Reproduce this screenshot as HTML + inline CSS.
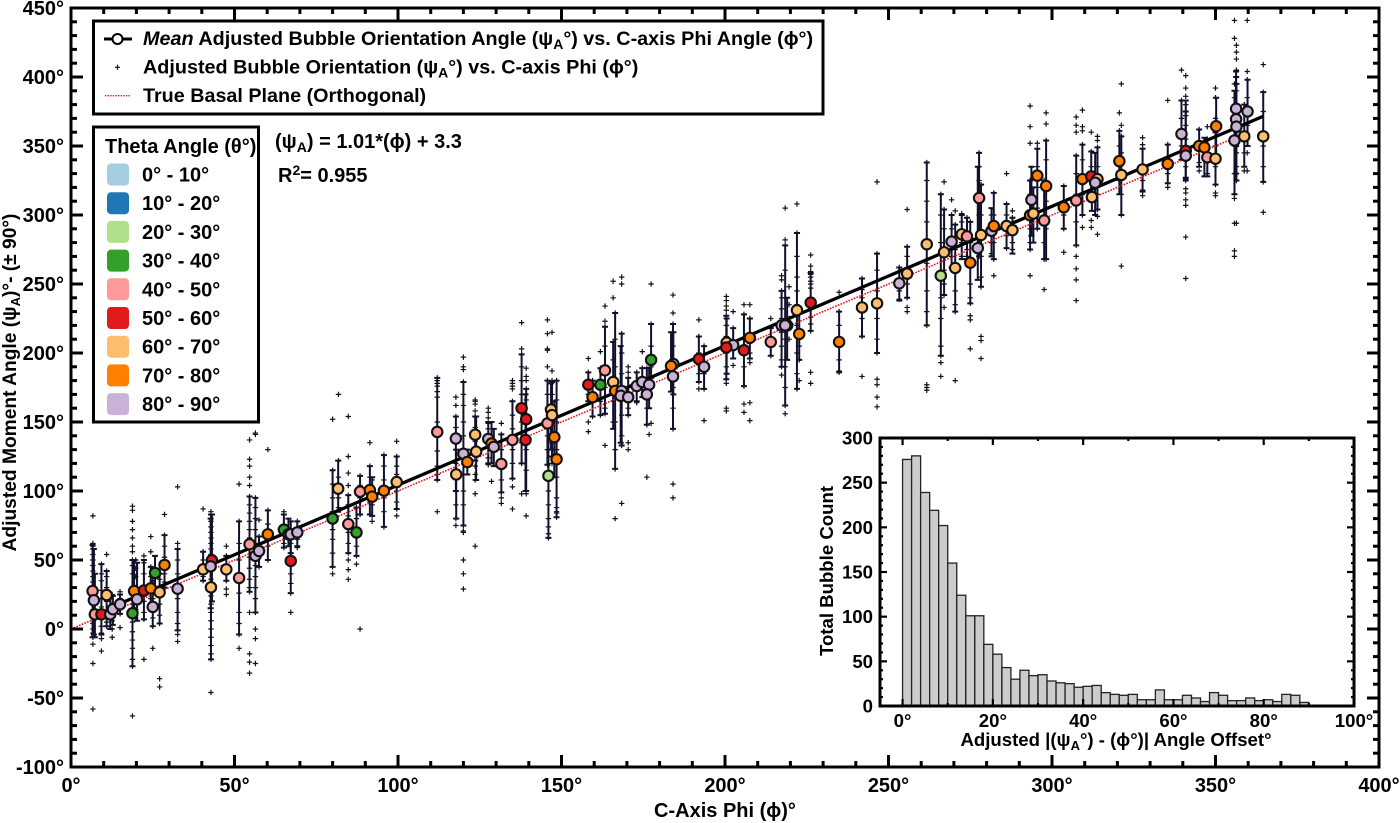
<!DOCTYPE html>
<html lang="en">
<head>
<meta charset="utf-8">
<title>Adjusted Bubble Orientation vs C-axis Phi</title>
<style>
html,body{margin:0;padding:0;background:#fff;}
svg{display:block;}
text{font-family:"Liberation Sans","DejaVu Sans",sans-serif;font-weight:bold;font-size:20px;fill:#000;}
</style>
</head>
<body>
<svg id="chart" width="1400" height="823" viewBox="0 0 1400 823" xmlns="http://www.w3.org/2000/svg">
<rect x="0" y="0" width="1400" height="823" fill="#fff"/>
<g id="plot"></g>
<rect x="71" y="8" width="1308" height="759" fill="none" stroke="#000" stroke-width="3"/>
<g id="axes"></g>
<text x="725" y="817" text-anchor="middle">C-Axis Phi (ϕ)°</text>
<text transform="translate(16,382.5) rotate(-90)" text-anchor="middle" style="font-size:19.2px">Adjusted Moment Angle (ψ<tspan font-size="13" dy="4">A</tspan><tspan dy="-4">)°- (± 90°)</tspan></text>

<g>
<rect x="93.5" y="21" width="729.5" height="93" fill="#fff" stroke="#000" stroke-width="3"/>
<line x1="104" y1="39" x2="132" y2="39" stroke="#000" stroke-width="3"/>
<circle cx="117.5" cy="39" r="5" fill="#fff" stroke="#000" stroke-width="2"/>
<text x="143" y="45" style="font-size:19.8px"><tspan font-style="italic">Mean</tspan> Adjusted Bubble Orientation Angle (ψ<tspan font-size="14" dy="4">A</tspan><tspan dy="-4">°) vs. C-axis Phi Angle (ϕ°)</tspan></text>
<path d="M115 67.3H120M117.5 64.8V69.8" stroke="#111" stroke-width="1.2" fill="none"/>
<text x="143" y="73.5" style="font-size:19.8px">Adjusted Bubble Orientation (ψ<tspan font-size="14" dy="4">A</tspan><tspan dy="-4">°) vs. C-axis Phi (ϕ°)</tspan></text>
<line x1="105" y1="95.7" x2="131" y2="95.7" stroke="#e8141c" stroke-width="1.4" stroke-dasharray="1.4 1.2"/>
<text x="143" y="102" style="font-size:19.75px">True Basal Plane (Orthogonal)</text>
</g>

<g id="theta-legend">
<rect x="93.5" y="127" width="165" height="295" fill="#fff" stroke="#000" stroke-width="3"/>
<text x="105" y="153">Theta Angle (θ°)</text>
</g>

<text x="275" y="148">(ψ<tspan font-size="14" dy="4">A</tspan><tspan dy="-4">) = 1.01*(ϕ) + 3.3</tspan></text>
<text x="278" y="182">R<tspan font-size="14" dy="-7">2</tspan><tspan dy="7">= 0.955</tspan></text>

<g id="inset">
<rect x="880" y="438" width="474" height="268" fill="#fff"/>
</g>
<text x="1116" y="746" text-anchor="middle" style="font-size:18.6px">Adjusted |(ψ<tspan font-size="13" dy="4">A</tspan><tspan dy="-4">°) - (ϕ°)| Angle Offset°</tspan></text>
<text transform="translate(833,571) rotate(-90)" text-anchor="middle" style="font-size:18.6px">Total Bubble Count</text>
</svg>

<script>
var xTickValues = [0, 50, 100, 150, 200, 250, 300, 350, 400];
var yTickValues = [-100, -50, 0, 50, 100, 150, 200, 250, 300, 350, 400, 450];

var thetaLabels = ["0° - 10°", "10° - 20°", "20° - 30°", "30° - 40°", "40° - 50°", "50° - 60°", "60° - 70°", "70° - 80°", "80° - 90°"];
var thetaColors = ["#a6cee3", "#1f78b4", "#b2df8a", "#33a02c", "#fb9a99", "#e31a1c", "#fdbf6f", "#ff7f00", "#cab2d6"];

var fitSlope = 1.01;
var fitIntercept = 3.3;
var fitRange = [16, 364.6];
var basalRange = [0, 355];

var meanPhi = [6.6,7,7.3,9.3,10.9,12,12.8,15,18.8,19.3,20.2,22.3,24.4,25,25.7,27.1,28.6,32.6,40.4,43.1,42.7,42.8,47.5,51.4,54.6,56.4,57.5,60.2,65.1,66.5,67.2,69.2,67.2,80,81.7,84.8,87.3,88.4,91.4,92.1,95.7,99.6,112,117.7,117.8,120,121.2,123.6,123.9,127.6,128.6,129.3,131.6,135,137.8,139.2,139,145.7,146.8,147.1,147.8,146,148.5,158.2,159.5,161.9,163.3,165.8,166.4,168.4,168.1,170.4,173,174.7,176.8,176.1,177.4,184.2,183.5,184.1,192,193.6,200.5,202.5,200.4,205.8,207.6,214,217.3,219,218.4,222,222.7,226.2,234.9,241.9,246.5,253.3,255.7,261.7,267,266,270.4,269.3,272.4,274,275,277.7,278.3,277.3,281.5,282.2,286.1,287.9,293.3,294.3,293.7,295.5,297.6,298.2,303.6,307.4,309.3,312,313.9,313.2,312.2,320.6,321.2,327.7,335.4,339.6,340.9,340.9,345,346.6,347.5,350,350.2,356.3,356.3,356.4,355.8,359.8,358.8,364.6];
var meanPsi = [27.5,20.8,10.6,10.6,24.6,10.6,14.3,17.9,11.4,27.5,21.5,27.9,29.4,16,40.6,26.6,46.4,29.2,43.2,49.8,45.4,30.2,43.2,37,61.4,53,56.5,68.6,72,68.6,68.6,70,49.3,80,101.7,76,70,99.5,100.7,95.9,100.2,106.5,142.8,138,112,127,121,140.8,128.5,137.7,134.4,132,119.6,137,160,152,137,149,159,155,139,111,123,177,168,177,187.4,179,172.5,172.5,169,168,176,179,177,170,195,192,190.6,183,195.6,190,207.5,205.7,204,202,211,208,220,220,220,231,213.8,236.5,208,233,236,250.5,257.5,278.8,273,256,261.6,280.7,286,284.5,265.4,312.3,285.5,276,288.5,292,292,289,299.8,301,311,328.5,296,321,305.6,310.5,326,328,326,323.4,313,339,329,333,337,358.7,346.5,343,350,349,341.8,340.8,364.3,377,369.4,364,354,375,357,357];
var errLow = [-6,-4,-6,-4,2,0,3,11,-27,8,6,7,14,2,25,4,30,-1,35,20,15,-22,35,-4,27,12,45,50,59,60,55,60,26,45,85,55,53,83,83,82,74,87,108,100,80,75,112,122,108,120,120,118,99,109,120,100,100,119,130,125,110,66,81,165,154,155,156,145,116,133,135,155,165,168,160,148,182,170,172,145,179,174,185,196,181,176,196,198,190,195,162,174,195,216,186,212,200,238,240,220,242,198,230,262,268,268,236,270,248,253,270,268,276,272,275,280,285,290,268,268,290,278,300,310,304,300,303,315,300,317,323,340,325,327,335,328,328,322,342,350,330,325,315,350,335,324];
var errHigh = [61,58,40,47,42,22,24,25,50,50,48,50,45,35,53,40,68,58,56,83,80,83,53,78,96,95,67,86,83,80,78,78,66,115,122,97,88,111,118,110,126,125,182,154,130,179,130,154,154,150,150,145,141,165,199,174,170,180,178,179,165,150,180,186,180,189,219,208,229,214,205,182,186,189,189,189,221,215,215,221,212,205,225,218,227,228,225,218,245,240,278,287,232,258,230,254,272,262,277,338,304,315,293,300,300,298,295,345,322,335,305,316,308,298,325,320,335,348,325,354,321,343,351,346,349,345,325,361,357,348,351,383,383,375,362,356,355,360,385,404,400,395,390,398,380,389];
var meanTheta = [4,8,4,5,6,8,8,8,3,7,8,5,7,8,3,6,7,8,6,5,8,6,6,4,4,8,8,7,3,8,8,8,5,3,6,4,3,4,7,7,7,6,4,8,6,8,7,6,6,8,7,8,4,4,5,5,5,4,6,6,7,2,7,5,7,3,4,6,7,8,8,8,8,8,8,8,3,8,7,8,5,8,6,8,5,5,7,4,8,7,8,6,7,5,7,6,6,8,6,6,6,2,6,8,6,4,7,4,6,8,8,7,6,6,7,6,8,7,4,7,7,4,7,5,6,8,6,7,6,6,7,8,5,8,7,7,4,6,7,8,8,8,8,8,6,6];

var bubblePhi = [6.7,9.3,10.9,12.6,15,18.8,19.8,22.3,24.4,25,27.1,28.6,32.6,40.4,42.8,47.5,51.4,54.6,56.4,57.5,60.2,65.1,67.2,69.2,80,81.8,84.8,87.3,88.4,91.4,92.1,95.7,99.6,112,117.7,120,123.6,127.6,128.6,131.6,135,137.8,139.2,145.7,147.1,146,148.5,158.2,159.5,161.9,163.3,165.8,166.4,168.4,170.4,173,174.7,176.1,176.8,177.4,184.1,192,193.6,200.4,202.5,205.8,207.6,214,217.3,218.4,219.6,222,222.7,226.2,234.9,241.9,246.5,253.3,255.7,261.7,266,267,269.3,270.4,272.4,274,275,277.7,278.3,281.5,282.2,286.1,287.9,293.3,295.5,298.2,297.6,303.6,307.4,309.3,312,313.9,321.2,320.6,327.7,335.4,339.6,340.9,345,347.5,350,355.8,356.4,359.7,358.8,364.6];
var bubblePsi = [
[82,62,60,58,54,50,46,42,38,34,30,24,18,14,8,4,0,-3,-6,-11,-25,-58],
[47,40,35,28,22,16,8,2,-3,-7,-16],
[54,42,38,30,20,12,5,2],
[25,18,12,6,0,-6],
[27,22,15,11,1],
[89,86,78,72,66,60,56,50,46,40,30,18,5,-2,-8,-14,-22,-27,-63],
[50,44,38,30,22,14,8],
[53,48,40,30,20,12,7,-22],
[67,56,45,38,30,22,14],
[35,28,22,8,2,-14],
[40,36,18,10,4,-36,-42],
[83,68,60,52,40,34,30],
[103,62,58,50,40,22,12,4,-1,-4,-9],
[87,56,50,38,35],
[85,83,78,74,70,66,62,58,54,48,42,36,30,24,18,12,6,0,-6,-12,-18,-22,-46],
[60,53,35,29,25],
[105,78,62,50,26,12,4,-4,-14],
[137,123,118,110,104,96,90,84,78,72,66,60,52,44,36,30,27,12,-18,-24,-32],
[142,141,95,88,80,72,62,54,46,38,30,22,12,0,-7,-25],
[79,67,60,52,45],
[130,86,76,68,60,50],
[85,83,70,62,59],
[78,70,62,50,40,33,26,12],
[78,72,65,59],
[152,115,105,95,85,72,65,55,45,40],
[170,122,110,95,88],
[154,125,113,104,97,90,82,70,62,55,50,43,36],
[88,80,70,60,53,47],
[111,104,95,83,0],
[135,118,110,100,92,83],
[108,100,90,82,78],
[126,118,108,95,85,74],
[136,125,118,112,100,92,87,82],
[182,180,178,176,172,168,150,129,118,112,108,85],
[168,162,154,146,130,120,110,100,90,80,75],
[197,190,188,179,170,162,150,140,125,112,100,90,75,71,70,50,40,29],
[166,165,163,158,154,146,136,126,118,112,108,98,60],
[160,157,153,149,145,140,132,124,119],
[107],
[149,141,130,120,108,99,95,91],
[180,178,176,174,165,155,145,130,120,109,103,87],
[222,203,199,190,180,170,150,135,120,98],
[189,183,180,174,166,155,130,115,100,98,82],
[224,214,203,202,190,180,170,160,150,140,130,119],
[215,187,180,170,160,148,135,120],
[100,90,80,74,69,66],
[180,166,150,130,110,95,88,85,84,81],
[196,186,180,170,150,143],
[180,165,154],
[201,189,180,165,155],
[234,223,219,205,190,175,160,156,133],
[252,240,208,195,180,165,150],
[229,210,190,170,150,130,116,80],
[255,250,214,200,185,170,155,140,133,91],
[190,186,182,175,160,155,135,130],
[186,178,164],
[201,189,175],
[189,175,160,148,110],
[141,170],
[250,221,205,190,182,149],
[242,229,221,215,205,190,175,160,145,105,95],
[224,212,200,185,179,174],
[205,185,174,151],
[241,238,234,231,227,220,212,200,190,181,178,160,158],
[230,218,205,191],
[235,228,210,190,176,163,157],
[235,225,212,200,196,193,164,151],
[225,218,205,198],
[256,253,245,240,232,225,215,205,195,190,184],
[305,282,278,260,240,210,190,175,162,156],
[248,235,225,210],
[308,287,270,255,245,235,220,200,185,174],
[232,205,195,180],
[271,263,259,257,255,252,250,247,240,232,226,221,216,186,178],
[244,230,220,205,195,187,186],
[254,246,240,225,212,183],
[324,272,260,245,225,210,200,181,177,168,161],
[262,245,239],
[304,277,270,262,250,240,233,230],
[338,325,310,295,280,265,245,230,220,177,175,173],
[315,300,280,240,225,205,198,193,183],
[324,304,290,260,250,242,233],
[311,300,290,270,262],
[303,293,275,245,235,230,180],
[301,295,280,270],
[298,275,270],
[295,280,250,240,236,227,224,203],
[345,335,325,300,285,270],
[322,300,270,255,248,212,209,196],
[300,290,280,272],
[316,300,280,268,256],
[330,308,300,285,276],
[303,298,280,275],
[379,364,352,325,315,300,290,280,275,256],
[352,348,335,320,305,290],
[374,366,354,340,310,290,268],
[325,300,280,268,246],
[321,300,290,273],
[371,365,360,343,330,315,295,278,270,261,253,238],
[376,364,361,351,340,315,300,291],
[360,346,335,315,296,291],
[357,354,349,335,315,304,299,286],
[395,365,357,345,315,300,263],
[374,361,350,325],
[356,351,348,335,325,318,317,314],
[383,351,340,330,323,320],
[405,383,370,350],
[401,392,386,380,372,365,355,335,326,325,319,316,311,307,284,254],
[362,350,338,332],
[364,355,340,330],
[392,385,370,350,335,322,316,314],
[441,428,395,385,370,350,330,315,312,294,274,270],
[423,418,413,405,400,395,390,380,375,360,345,335,325,294],
[441,404,398,385,365,345,332],
[380,360,345,332],
[409,389,375,350,335,324,302]
];

var histBinWidth = 2;
var histCounts = [276,280,239,219,202,160,124,101,101,69,58,43,30,40,34,35,28,26,25,21,22,23,15,13,12,13,7,7,18,7,7,12,9,5,15,12,6,6,9,6,7,5,13,12,4];
var insetXTicks = [0, 20, 40, 60, 80, 100];
var insetYTicks = [0, 50, 100, 150, 200, 250, 300];

var NS = "http://www.w3.org/2000/svg";
function add(tag, attrs, parent) {
  var el = document.createElementNS(NS, tag);
  for (var k in attrs) el.setAttribute(k, attrs[k]);
  parent.appendChild(el);
  return el;
}
function xMain(v) { return 71 + (v - 0) * (1308 / 400); }
function yMain(v) { return 767 - (v + 100) * (759 / 550); }
function xInset(v) { return 880 + (v + 5) * (474 / 105); }
function yInset(v) { return 706 - v * (268 / 300); }

var plot = document.getElementById("plot");
var axes = document.getElementById("axes");
var inset = document.getElementById("inset");
var thetaLegend = document.getElementById("theta-legend");

/* bubble crosses */
bubblePhi.forEach(function (phi, c) {
  bubblePsi[c].forEach(function (psi) {
    var x = xMain(phi), y = yMain(psi);
    var m = add("path", { d: "M" + (x - 2.7) + " " + y + "H" + (x + 2.7) + "M" + x + " " + (y - 2.7) + "V" + (y + 2.7), stroke: "#111", "stroke-width": 1.2, fill: "none" }, plot);
    
    
  });
});

/* error bars */
meanPhi.forEach(function (phi, i) {
  var x = xMain(phi), y1 = yMain(errLow[i]), y2 = yMain(errHigh[i]);
  var e = add("path", { d: "M" + x + " " + y1 + "V" + y2 + "M" + (x - 3) + " " + y1 + "H" + (x + 3) + "M" + (x - 3) + " " + y2 + "H" + (x + 3), stroke: "#10102c", "stroke-width": 2, fill: "none" }, plot);
  
  
});

/* reference and fit lines */
var basal = add("line", { x1: xMain(basalRange[0]), y1: yMain(basalRange[0]), x2: xMain(basalRange[1]), y2: yMain(basalRange[1]), stroke: "#e8141c", "stroke-width": 1.6, "stroke-dasharray": "1.6 1.3" }, plot);



var fit = add("line", { x1: xMain(fitRange[0]), y1: yMain(fitSlope * fitRange[0] + fitIntercept), x2: xMain(fitRange[1]), y2: yMain(fitSlope * fitRange[1] + fitIntercept), stroke: "#000", "stroke-width": 3.3 }, plot);



/* mean markers */
meanPhi.forEach(function (phi, i) {
  var c = add("circle", { cx: xMain(phi), cy: yMain(meanPsi[i]), r: 5.2, fill: thetaColors[meanTheta[i]], stroke: "#111", "stroke-width": 2.1 }, plot);
  
  
});

/* main axes */
for (var v = 0; v <= 400; v += 10) {
  var major = v % 50 === 0, len = major ? 12 : 6, px = xMain(v);
  var tb = add("line", { x1: px, x2: px, y1: 767, y2: 767 - len, stroke: "#000", "stroke-width": 3 }, axes);
  
  
  var tt = add("line", { x1: px, x2: px, y1: 8, y2: 8 + len, stroke: "#000", "stroke-width": 3 }, axes);
  
  
}
for (var w = -100; w <= 450; w += 10) {
  var majorY = w % 50 === 0, lenY = majorY ? 12 : 6, py = yMain(w);
  var tl = add("line", { x1: 71, x2: 71 + lenY, y1: py, y2: py, stroke: "#000", "stroke-width": 3 }, axes);
  
  
  var tr = add("line", { x1: 1379, x2: 1379 - lenY, y1: py, y2: py, stroke: "#000", "stroke-width": 3 }, axes);
  
  
}
xTickValues.forEach(function (v) {
  var t = add("text", { x: xMain(v), y: 792, "text-anchor": "middle" }, axes);
  t.textContent = v + "°";
  
  
});
yTickValues.forEach(function (v) {
  var t = add("text", { x: 64, y: yMain(v) + 7, "text-anchor": "end" }, axes);
  t.textContent = v + "°";
  
  
});

/* theta legend */
thetaLabels.forEach(function (label, i) {
  var cy = 174.5 + i * 28.7;
  var s = add("rect", { x: 107, y: cy - 11, width: 22, height: 22, rx: 4, ry: 4, fill: thetaColors[i] }, thetaLegend);
  
  
  var t = add("text", { x: 142, y: cy + 7 }, thetaLegend);
  t.textContent = label;
  
  
});

/* inset histogram */
histCounts.forEach(function (n, i) {
  var x0 = xInset(i * histBinWidth), x1 = xInset((i + 1) * histBinWidth);
  var b = add("rect", { x: x0, y: yInset(n), width: x1 - x0, height: yInset(0) - yInset(n), fill: "#cccccc", stroke: "#222", "stroke-width": 1.3 }, inset);
  
  
});
var iframe = add("rect", { x: 880, y: 438, width: 474, height: 268, fill: "none", stroke: "#000", "stroke-width": 3 }, inset);


for (var a = 0; a <= 100; a += 10) {
  var ilen = a % 20 === 0 ? 7 : 3, ix = xInset(a);
  var ib = add("line", { x1: ix, x2: ix, y1: 706, y2: 706 - ilen, stroke: "#000", "stroke-width": 2.2 }, inset);
  
  
  var it = add("line", { x1: ix, x2: ix, y1: 438, y2: 438 + ilen, stroke: "#000", "stroke-width": 2.2 }, inset);
  
  
}
for (var d = 0; d <= 300; d += 10) {
  var jlen = d % 50 === 0 ? 7 : 3, iy = yInset(d);
  var il = add("line", { x1: 880, x2: 880 + jlen, y1: iy, y2: iy, stroke: "#000", "stroke-width": 2.2 }, inset);
  
  
  var ir = add("line", { x1: 1354, x2: 1354 - jlen, y1: iy, y2: iy, stroke: "#000", "stroke-width": 2.2 }, inset);
  
  
}
insetXTicks.forEach(function (v) {
  var t = add("text", { x: xInset(v), y: 727, "text-anchor": "middle", style: "font-size:18.6px" }, inset);
  t.textContent = v + "°";
  
  
});
insetYTicks.forEach(function (v) {
  var t = add("text", { x: 873, y: yInset(v) + 6.5, "text-anchor": "end", style: "font-size:18.6px" }, inset);
  t.textContent = v;
  
  
});
</script>
</body>
</html>
